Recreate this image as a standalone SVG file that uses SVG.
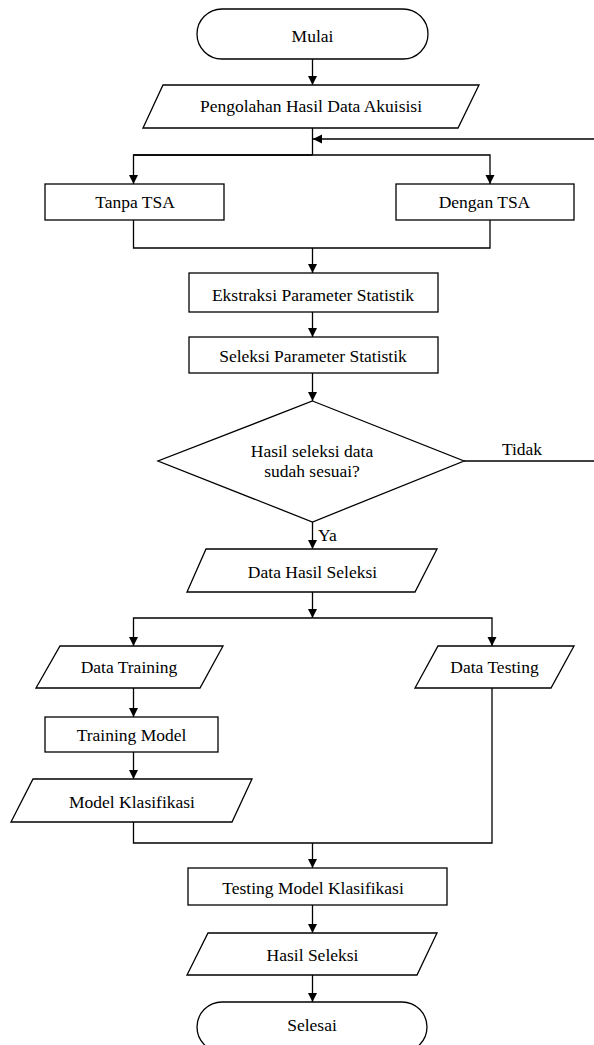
<svg xmlns="http://www.w3.org/2000/svg" width="594" height="1045" viewBox="0 0 594 1045" font-family="Liberation Serif, Times New Roman, serif" font-size="17.5">
<defs>
<style>
.s{fill:#fff;stroke:#000;stroke-width:1.3}
.c{fill:none;stroke:#000;stroke-width:1.3}
.a{marker-end:url(#ah)}
.t{fill:#000;text-anchor:middle}
</style>
<marker id="ah" markerWidth="10" markerHeight="10" refX="9" refY="4.5" orient="auto" markerUnits="userSpaceOnUse">
<path d="M0,0 L9,4.5 L0,9 Z" fill="#000"/>
</marker>
</defs>
<rect width="594" height="1045" fill="#fff"/>
<g id="connectors">
<path class="c a" d="M312.5,59 V85"/>
<path class="c" d="M312.5,128 V155"/>
<path class="c a" d="M594,139 H313"/>
<path class="c a" d="M133.5,155 H490 V184"/>
<path class="c a" d="M312.5,155 H133.5 V184"/>
<path class="c" d="M133.5,220 V248 H490 V220"/>
<path class="c a" d="M312.5,248 V273"/>
<path class="c a" d="M312.5,312 V337"/>
<path class="c a" d="M312.5,373 V401"/>
<path class="c" d="M464,461 H594"/>
<path class="c a" d="M312.5,522 V549"/>
<path class="c a" d="M312.5,592 V618"/>
<path class="c a" d="M312.5,618 H133.5 V646"/>
<path class="c a" d="M312.5,618 H492 V646"/>
<path class="c a" d="M133.5,688 V717"/>
<path class="c a" d="M133.5,752 V779"/>
<path class="c" d="M133.5,822 V843 H492 V688"/>
<path class="c a" d="M312.5,843 V868"/>
<path class="c a" d="M312.5,905 V933"/>
<path class="c a" d="M312.5,975 V1002"/>
<text x="318" y="541" fill="#000">Ya</text>
<text class="t" x="522" y="455">Tidak</text>
</g>
<g id="mulai">
<rect class="s" x="197" y="9" width="231" height="50" rx="25" ry="25"/>
<text class="t" x="312.5" y="42">Mulai</text>
</g>
<g id="pengolahan">
<polygon class="s" points="163,85 479,85 458,128 143,128"/>
<text class="t" x="311" y="112">Pengolahan Hasil Data Akuisisi</text>
</g>
<g id="tanpa-tsa">
<rect class="s" x="45" y="184" width="179" height="36"/>
<text class="t" x="135" y="208">Tanpa TSA</text>
</g>
<g id="dengan-tsa">
<rect class="s" x="396" y="184" width="178" height="36"/>
<text class="t" x="484.5" y="208">Dengan TSA</text>
</g>
<g id="ekstraksi">
<rect class="s" x="189" y="273" width="249" height="39"/>
<text class="t" x="313" y="301">Ekstraksi Parameter Statistik</text>
</g>
<g id="seleksi">
<rect class="s" x="189" y="337" width="249" height="36"/>
<text class="t" x="313" y="362">Seleksi Parameter Statistik</text>
</g>
<g id="keputusan">
<polygon class="s" points="312.5,401 464,461 312.5,522 158,461"/>
<text class="t" x="312" y="457">Hasil seleksi data</text>
<text class="t" x="312" y="477">sudah sesuai?</text>
</g>
<g id="data-hasil-seleksi">
<polygon class="s" points="206,549 437,549 415,592 187,592"/>
<text class="t" x="312.5" y="578">Data Hasil Seleksi</text>
</g>
<g id="data-training">
<polygon class="s" points="60,646 223,646 200,688 36,688"/>
<text class="t" x="129" y="673">Data Training</text>
</g>
<g id="data-testing">
<polygon class="s" points="438,646 574,646 551,688 415,688"/>
<text class="t" x="494.5" y="673">Data Testing</text>
</g>
<g id="training-model">
<rect class="s" x="45" y="717" width="173" height="35"/>
<text class="t" x="131.5" y="741">Training Model</text>
</g>
<g id="model-klasifikasi">
<polygon class="s" points="33,779 252,779 232,822 11,822"/>
<text class="t" x="132" y="808">Model Klasifikasi</text>
</g>
<g id="testing-model">
<rect class="s" x="188" y="868" width="259" height="37"/>
<text class="t" x="313" y="894">Testing Model Klasifikasi</text>
</g>
<g id="hasil-seleksi">
<polygon class="s" points="208,933 437,933 417,975 187,975"/>
<text class="t" x="312.5" y="961">Hasil Seleksi</text>
</g>
<g id="selesai">
<rect class="s" x="197" y="1002" width="230" height="50" rx="25" ry="25"/>
<text class="t" x="312" y="1031">Selesai</text>
</g>
</svg>
